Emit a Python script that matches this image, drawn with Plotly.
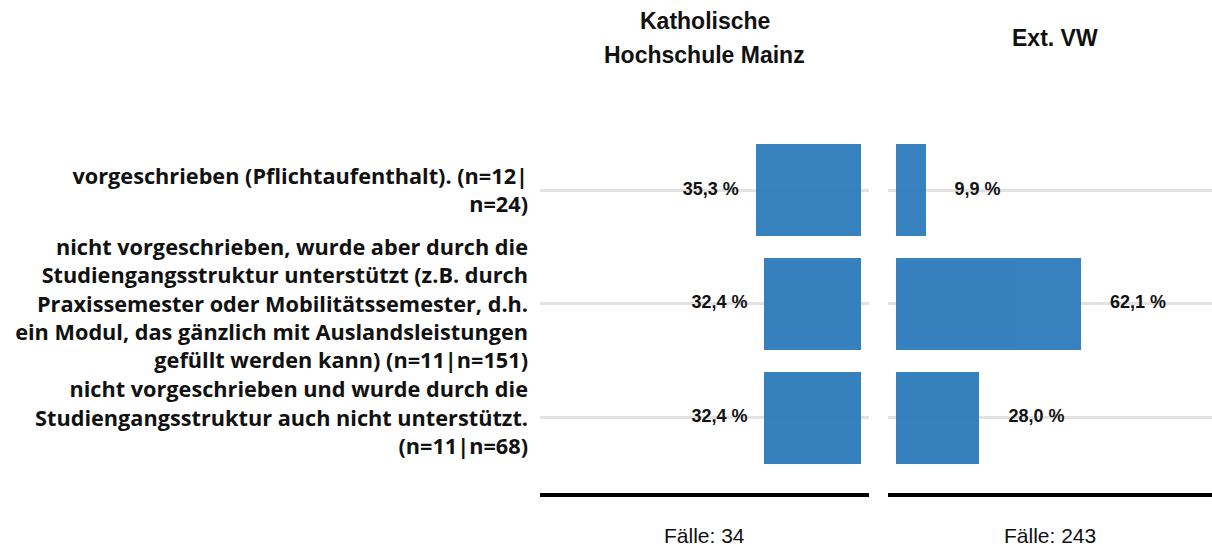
import plotly.graph_objects as go

categories = [
    "vorgeschrieben (Pflichtaufenthalt). (n=12|<br>n=24)",
    "nicht vorgeschrieben, wurde aber durch die<br>Studiengangsstruktur unterstützt (z.B. durch<br>Praxissemester oder Mobilitätssemester, d.h.<br>ein Modul, das gänzlich mit Auslandsleistungen<br>gefüllt werden kann) (n=11|n=151)",
    "nicht vorgeschrieben und wurde durch die<br>Studiengangsstruktur auch nicht unterstützt.<br>(n=11|n=68)",
]
panel_titles = ["Katholische<br>Hochschule Mainz", "Ext. VW"]
cases = ["Fälle: 34", "Fälle: 243"]
values_left = [35.3, 32.4, 32.4]
values_right = [9.9, 62.1, 28.0]

def fmt(v):
    return f"{v:.1f}".replace(".", ",") + " %"

W, H = 1212, 549
TOP, BOTTOM = 133, 493
PH = BOTTOM - TOP
def py(p):
    return (BOTTOM - p) / PH

bar_color = "#2c7aba"
ypos = list(range(len(categories)))

fig = go.Figure()
fig.add_trace(go.Bar(x=values_left, y=ypos, orientation="h", width=0.81,
                     marker=dict(color=bar_color, line=dict(width=0)), opacity=0.95,
                     xaxis="x", yaxis="y", hoverinfo="skip"))
fig.add_trace(go.Bar(x=values_right, y=ypos, orientation="h", width=0.81,
                     marker=dict(color=bar_color, line=dict(width=0)), opacity=0.95,
                     xaxis="x2", yaxis="y2", hoverinfo="skip"))
lab_font = dict(family="Liberation Sans, Arial, sans-serif", size=18, color="#111111", weight="bold")
fig.add_trace(go.Scatter(x=[v + 5.7 for v in values_left], y=ypos, mode="text",
                         text=[fmt(v) for v in values_left], textposition="middle left",
                         textfont=lab_font, xaxis="x", yaxis="y", hoverinfo="skip"))
fig.add_trace(go.Scatter(x=[v + 9.7 for v in values_right], y=ypos, mode="text",
                         text=[fmt(v) for v in values_right], textposition="middle right",
                         textfont=lab_font, xaxis="x2", yaxis="y2", hoverinfo="skip"))

xl = (540 / W, 869 / W)
xr = (888 / W, 1.0)
yrange = [2.658, -0.5]
fig.update_layout(
    width=W, height=H,
    margin=dict(l=0, r=0, t=TOP, b=H - BOTTOM),
    paper_bgcolor="white", plot_bgcolor="white",
    showlegend=False, bargap=0,
    xaxis=dict(domain=list(xl), range=[107.7, -2.68], showgrid=False, zeroline=False,
               showticklabels=False, ticks="", showline=True, linecolor="black", linewidth=4,
               anchor="y", fixedrange=True),
    xaxis2=dict(domain=list(xr), range=[-2.68, 106.0], showgrid=False, zeroline=False,
                showticklabels=False, ticks="", showline=True, linecolor="black", linewidth=4,
                anchor="y2", fixedrange=True),
    yaxis=dict(range=yrange, tickvals=ypos, ticktext=categories, showgrid=True,
               gridcolor="#e2e2e2", gridwidth=3, zeroline=False, showline=False, ticks="",
               ticklabelstandoff=11, automargin=False, anchor="x",
               tickfont=dict(family="Open Sans, Lato, sans-serif", size=21.7, color="#111111",
                             weight="bold")),
    yaxis2=dict(range=yrange, tickvals=ypos, showticklabels=False, showgrid=True,
                gridcolor="#e2e2e2", gridwidth=3, zeroline=False, showline=False, ticks="",
                anchor="x2", matches="y"),
)

title_font = dict(family="Liberation Sans, Arial, sans-serif", size=23, color="#111111")
tl = panel_titles[0].split("<br>")
cx_l = (xl[0] + xl[1]) / 2
cx_r = (xr[0] + xr[1]) / 2 + 5 / W
fig.add_annotation(text="<b>" + tl[0] + "</b>", x=cx_l, y=py(21), xref="paper", yref="paper",
                   showarrow=False, xanchor="center", yanchor="middle", font=title_font)
fig.add_annotation(text="<b>" + tl[1] + "</b>", x=cx_l, y=py(55), xref="paper", yref="paper",
                   showarrow=False, xanchor="center", yanchor="middle", font=title_font)
fig.add_annotation(text="<b>" + panel_titles[1] + "</b>", x=cx_r, y=py(38), xref="paper", yref="paper",
                   showarrow=False, xanchor="center", yanchor="middle", font=title_font)
case_font = dict(family="Liberation Sans, Arial, sans-serif", size=21, color="#111111")
fig.add_annotation(text=cases[0], x=cx_l, y=py(535), xref="paper", yref="paper",
                   showarrow=False, xanchor="center", yanchor="middle", font=case_font)
fig.add_annotation(text=cases[1], x=(xr[0] + xr[1]) / 2, y=py(535), xref="paper", yref="paper",
                   showarrow=False, xanchor="center", yanchor="middle", font=case_font)

fig.write_html("out.html", config={"displayModeBar": False},
               post_script="document.body.style.margin='0px';document.body.style.overflow='hidden';")
